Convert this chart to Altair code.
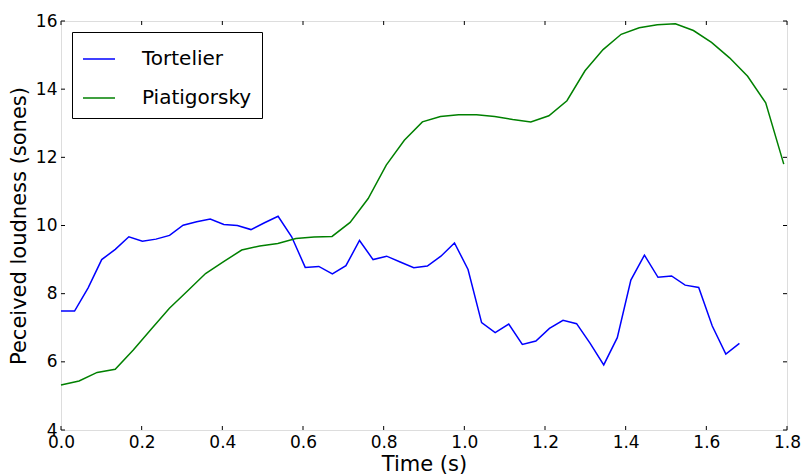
import altair as alt
import pandas as pd

# Tortelier: 51 frames, hop ~0.03364 s
tort_dt = 0.03364
tortelier = [7.49, 7.49, 8.17, 9.00, 9.30, 9.67, 9.54, 9.60, 9.71, 10.01,
             10.11, 10.19, 10.03, 10.00, 9.88, 10.08, 10.27, 9.67, 8.77, 8.80,
             8.58, 8.82, 9.56, 9.00, 9.10, 8.93, 8.76, 8.81, 9.10, 9.49,
             8.71, 7.15, 6.86, 7.11, 6.51, 6.61, 6.98, 7.22, 7.12, 6.54,
             5.91, 6.71, 8.40, 9.13, 8.48, 8.52, 8.25, 8.18, 7.05, 6.23,
             6.54]
# Piatigorsky: 41 frames, hop ~0.0448 s
piat_dt = 0.0448
piatigorsky = [5.32, 5.44, 5.69, 5.78, 6.35, 6.96, 7.57, 8.08, 8.59, 8.94,
               9.28, 9.40, 9.47, 9.62, 9.66, 9.68, 10.09, 10.79, 11.77, 12.50,
               13.04, 13.20, 13.25, 13.25, 13.20, 13.11, 13.04, 13.22, 13.66, 14.54,
               15.16, 15.61, 15.80, 15.89, 15.92, 15.72, 15.37, 14.92, 14.38, 13.60,
               11.80]

series_names = ["Tortelier", "Piatigorsky"]
series_colors = ["#0000ff", "#008000"]
x_ticks = [0.0, 0.2, 0.4, 0.6, 0.8, 1.0, 1.2, 1.4, 1.6, 1.8]
y_ticks = [4, 6, 8, 10, 12, 14, 16]

rows = []
for i, v in enumerate(tortelier):
    rows.append({"t": i * tort_dt, "v": v, "s": "Tortelier", "o": i})
for i, v in enumerate(piatigorsky):
    rows.append({"t": i * piat_dt, "v": v, "s": "Piatigorsky", "o": i})
df = pd.DataFrame(rows)
xt = pd.DataFrame({"t": x_ticks})
yt = pd.DataFrame({"v": y_ticks})

W, H = 726, 409
FONT = "DejaVu Sans"
TL = 4

xscale = alt.Scale(domain=[0, 1.8], nice=False, zero=False)
yscale = alt.Scale(domain=[4, 16], nice=False, zero=False)

lines = alt.Chart(df).mark_line(strokeWidth=1.5).encode(
    x=alt.X("t:Q", scale=xscale, title="Time (s)",
            axis=alt.Axis(values=x_ticks, format=".1f", tickSize=0, grid=False,
                          domain=False, labelFlush=False, labelOverlap=False,
                          labelPadding=4, labelFontSize=17, labelFont=FONT,
                          labelColor="black", titleFont=FONT, titleFontSize=21,
                          titleFontWeight="normal", titleColor="black",
                          titlePadding=3)),
    y=alt.Y("v:Q", scale=yscale, title="Peceived loudness (sones)",
            axis=alt.Axis(values=y_ticks, format="d", tickSize=0, grid=False,
                          domain=False, labelOverlap=False, labelFlush=False,
                          labelPadding=4, labelFontSize=17, labelFont=FONT,
                          labelColor="black", titleFont=FONT, titleFontSize=21,
                          titleFontWeight="normal", titleColor="black",
                          titlePadding=6)),
    color=alt.Color("s:N", scale=alt.Scale(domain=series_names, range=series_colors),
                    legend=alt.Legend(orient="none", legendX=11, legendY=11, title=None,
                                      symbolType="stroke", symbolSize=1024,
                                      symbolStrokeWidth=1.5, labelFontSize=20,
                                      labelFont=FONT, labelColor="black",
                                      labelOffset=26, rowPadding=12, padding=10,
                                      strokeColor="black", fillColor="white",
                                      cornerRadius=0)),
    order="o:Q",
)

bot = alt.Chart(xt).mark_rule(color="black", strokeWidth=1).encode(
    x=alt.X("t:Q", scale=xscale), y=alt.value(H - TL), y2=alt.value(H))
top = alt.Chart(xt).mark_rule(color="black", strokeWidth=1).encode(
    x=alt.X("t:Q", scale=xscale), y=alt.value(0), y2=alt.value(TL))
left = alt.Chart(yt).mark_rule(color="black", strokeWidth=1).encode(
    y=alt.Y("v:Q", scale=yscale), x=alt.value(0), x2=alt.value(TL))
right = alt.Chart(yt).mark_rule(color="black", strokeWidth=1).encode(
    y=alt.Y("v:Q", scale=yscale), x=alt.value(W - TL), x2=alt.value(W))

chart = alt.layer(lines, bot, top, left, right).properties(
    width=W, height=H,
    autosize=alt.AutoSizeParams(type="none"),
    padding={"left": 61, "top": 21, "right": 16, "bottom": 45},
).configure_view(stroke="black", strokeWidth=1).configure(background="white")

chart.save("out.html", embed_options={"renderer": "svg", "actions": False})
